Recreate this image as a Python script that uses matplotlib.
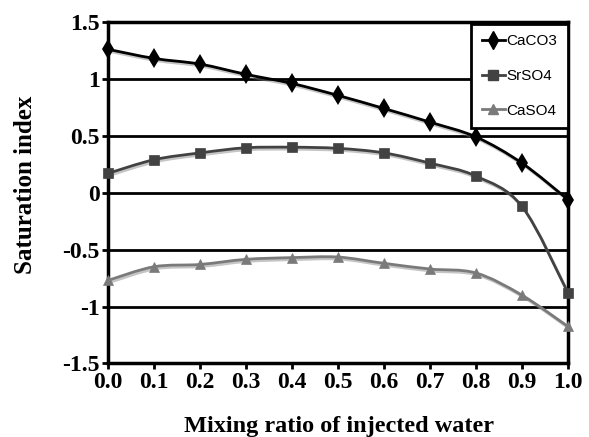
import numpy as np
import matplotlib
matplotlib.use("Agg")
import matplotlib.pyplot as plt
from matplotlib.path import Path
from matplotlib.patches import PathPatch
from matplotlib.lines import Line2D
import matplotlib.patheffects as pe

# mixing ratio of injected water vs. saturation index
mix_ratio = [0.0, 0.1, 0.2, 0.3, 0.4, 0.5, 0.6, 0.7, 0.8, 0.9, 1.0]
si_caco3 = [1.26, 1.18, 1.13, 1.04, 0.96, 0.855, 0.74, 0.62, 0.49, 0.26, -0.06]
si_srso4 = [0.17, 0.29, 0.35, 0.395, 0.40, 0.39, 0.35, 0.26, 0.146, -0.12, -0.88]
si_caso4 = [-0.77, -0.65, -0.63, -0.585, -0.57, -0.565, -0.62, -0.67, -0.705, -0.90, -1.175]

series_names = ["CaCO3", "SrSO4", "CaSO4"]
x_ticks = [0.0, 0.1, 0.2, 0.3, 0.4, 0.5, 0.6, 0.7, 0.8, 0.9, 1.0]
x_tick_labels = ["0.0", "0.1", "0.2", "0.3", "0.4", "0.5", "0.6", "0.7", "0.8", "0.9", "1.0"]
y_ticks = [-1.5, -1.0, -0.5, 0.0, 0.5, 1.0, 1.5]
y_tick_labels = ["-1.5", "-1", "-0.5", "0", "0.5", "1", "1.5"]

SERIF = "Liberation Serif"
SANS = "Liberation Sans"


def smooth_path(xs, ys):
    """Catmull-Rom style bezier path through the points (spreadsheet smoothing)."""
    pts = np.column_stack([xs, ys]).astype(float)
    n = len(pts)
    verts = [pts[0]]
    codes = [Path.MOVETO]
    for i in range(n - 1):
        p0 = pts[i - 1] if i > 0 else pts[i]
        p1 = pts[i]
        p2 = pts[i + 1]
        p3 = pts[i + 2] if i + 2 < n else pts[i + 1]
        c1 = p1 + (p2 - p0) / 6.0
        c2 = p2 - (p3 - p1) / 6.0
        verts += [c1, c2, p2]
        codes += [Path.CURVE4] * 3
    return Path(verts, codes)


fig = plt.figure(figsize=(5.89, 4.37), dpi=100)
ax = fig.add_axes([0.1834, 0.1682, 0.7809, 0.7815])

styles = [
    dict(color="black", marker="d", ms=10, mew=0),
    dict(color="#424242", marker="s", ms=7.5, mew=0.5),
    dict(color="#7a7a7a", marker="^", ms=7.5, mew=0.5),
]

for ys, name, st in zip([si_caco3, si_srso4, si_caso4], series_names, styles):
    patch = PathPatch(smooth_path(mix_ratio, ys), facecolor="none",
                      edgecolor=st["color"], lw=2.0, transform=ax.transData,
                      zorder=3, clip_on=False)
    patch.set_path_effects([pe.SimpleLineShadow(offset=(1, -1.5), shadow_color="gray",
                                                alpha=0.45),
                            pe.Normal()])
    ax.add_patch(patch)
    ax.plot(mix_ratio, ys, linestyle="none", marker=st["marker"], ms=st["ms"],
            color=st["color"], mec=st["color"], mew=st["mew"], zorder=4, clip_on=False)

ax.set_xlim(0, 1)
ax.set_ylim(-1.5, 1.5)

# horizontal gridlines
for yv in y_ticks:
    ax.axhline(yv, color="black", lw=2.0, zorder=1)

ax.set_xticks(x_ticks)
ax.set_xticklabels(x_tick_labels, fontfamily=SERIF, fontweight="bold", fontsize=17)
ax.set_yticks(y_ticks)
ax.set_yticklabels(y_tick_labels, fontfamily=SERIF, fontweight="bold", fontsize=17)
ax.tick_params(axis="both", direction="out", length=4, width=2, color="black", pad=2)

for sp in ax.spines.values():
    sp.set_linewidth(2.5)
    sp.set_color("black")

fig.text(0.576, 0.0114, "Mixing ratio of injected water", fontfamily=SERIF,
         fontweight="bold", fontsize=17.5, ha="center", va="baseline")
fig.text(0.0433, 0.5767, "Saturation index", fontfamily=SERIF, fontweight="bold",
         fontsize=18, ha="center", va="center", rotation=90)

handles = [Line2D([], [], color=st["color"], lw=2.0, marker=st["marker"],
                  ms=st["ms"] * 0.9, mec=st["color"]) for st in styles]
leg = ax.legend(handles, series_names, loc="upper right", bbox_to_anchor=(1.0, 0.995),
                borderaxespad=0, frameon=True, fancybox=False, framealpha=1,
                edgecolor="black", prop={"family": SANS, "size": 11},
                handlelength=1.5, handletextpad=0.1, labelspacing=1.35,
                borderpad=0.7)
leg.get_frame().set_linewidth(2.0)
leg.set_zorder(5)

fig.savefig("out.png", dpi=100)
